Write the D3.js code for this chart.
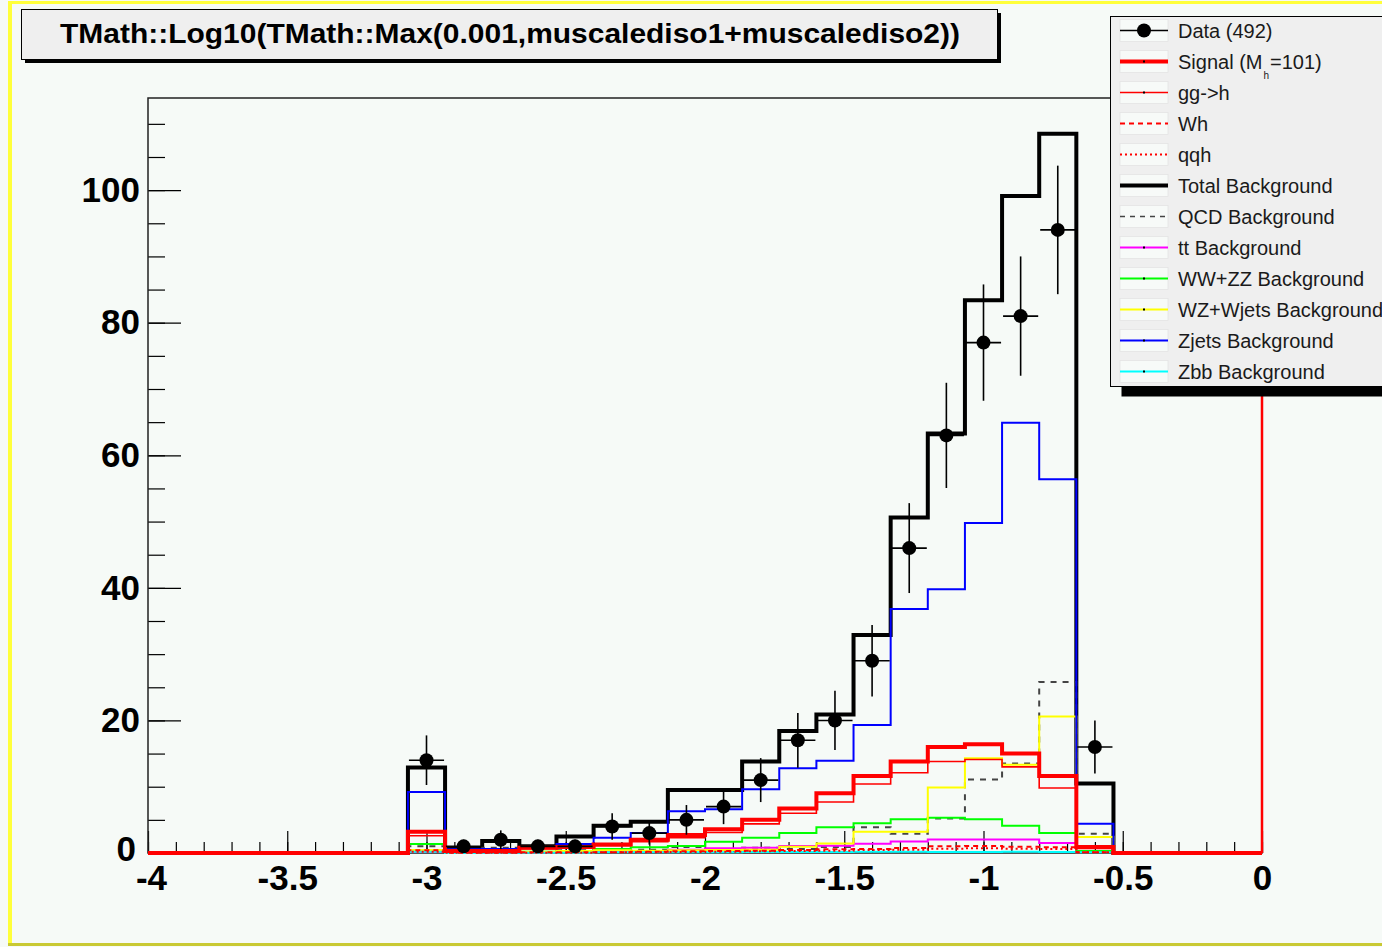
<!DOCTYPE html>
<html>
<head>
<meta charset="utf-8">
<script src="https://cdn.jsdelivr.net/npm/d3@7"></script>
<style>
  html, body { margin: 0; padding: 0; background: #f6faf7; }
  svg { display: block; }
  text { font-family: "Liberation Sans", Arial, Helvetica, sans-serif; }
</style>
</head>
<body>
<svg id="canvas" width="1382" height="947"></svg>
<script>
// ---- Binning of the histogram axis ----
const xMin = -4, xMax = 0, nBins = 30;
const firstBin = 7;          // index of the first bin that holds the listed contents
const yMax = 113.9;

// ---- Axis ticks ----
const xMajorTicks = [-4, -3.5, -3, -2.5, -2, -1.5, -1, -0.5, 0];
const xTickLabels = ["-4", "-3.5", "-3", "-2.5", "-2", "-1.5", "-1", "-0.5", "0"];
const yMajorTicks = [0, 20, 40, 60, 80, 100];
const yTickLabels = ["0", "20", "40", "60", "80", "100"];

// ---- Bin contents, bins 7 .. 25 ----
const dataCounts   = [14, 1, 2, 1, 1, 4, 3, 5, 7, 11, 17, 20, 29, 46, 63, 77, 81, 94, 16];
const totalBkg     = [12.9, 0.7, 1.8, 1.0, 2.5, 4.1, 4.7, 9.5, 9.5, 13.8, 18.4, 20.9, 32.9, 50.6, 63.3, 83.4, 99.1, 108.5, 10.5];
const qcdBkg       = [1.0, 0.1, 0.8, 0.1, 0.4, 0.3, 0.5, 0.9, 0.6, 0.8, 0.6, 0.9, 3.9, 2.9, 5.2, 11.1, 13.5, 25.8, 2.9];
const ttBkg        = [0.2, 0.05, 0.1, 0.1, 0.15, 0.2, 0.3, 0.5, 0.7, 0.8, 1.05, 1.1, 1.4, 1.75, 2.05, 2.05, 2.05, 1.5, 0.15];
const wwzzBkg      = [1.35, 0.1, 0.15, 0.2, 0.3, 0.6, 0.85, 1.05, 1.7, 2.3, 3.0, 3.9, 4.5, 5.1, 5.3, 5.1, 4.1, 3.0, 0.3];
const wzWjetsBkg   = [0.45, 0.2, 0.35, 0.2, 0.3, 0.4, 0.35, 0.4, 0.45, 0.5, 0.95, 1.45, 3.2, 3.2, 9.9, 14.3, 13.3, 20.6, 2.4];
const zjetsBkg     = [9.2, 0.55, 0.6, 0.85, 1.35, 2.3, 3.0, 6.3, 6.6, 9.6, 12.8, 13.9, 19.3, 36.8, 39.8, 49.8, 64.9, 56.4, 4.4];
const zbbBkg       = [0.2, 0.0, 0.05, 0.05, 0.05, 0.1, 0.1, 0.1, 0.1, 0.15, 0.15, 0.15, 0.2, 0.2, 0.15, 0.15, 0.2, 0.15, 0.1];
const signalTotal  = [3.2, 0.3, 0.3, 0.8, 0.9, 1.3, 2.0, 2.7, 3.6, 5.0, 6.7, 9.0, 11.6, 13.8, 16.0, 16.4, 15.0, 11.6, 0.9];
const ggh          = [2.6, 0.2, 0.25, 0.65, 0.75, 1.1, 1.7, 2.3, 3.1, 4.4, 6.0, 7.7, 10.4, 12.1, 13.8, 14.1, 13.0, 9.8, 0.7];
const wh           = [0.4, 0.05, 0.03, 0.1, 0.1, 0.1, 0.2, 0.25, 0.3, 0.35, 0.45, 0.55, 0.6, 0.75, 1.0, 1.05, 0.95, 0.85, 0.1];
const qqh          = [0.2, 0.05, 0.02, 0.05, 0.05, 0.1, 0.1, 0.15, 0.2, 0.25, 0.3, 0.35, 0.45, 0.5, 0.65, 0.7, 0.65, 0.6, 0.1];

const titleText = "TMath::Log10(TMath::Max(0.001,muscalediso1+muscalediso2))";

// ---- Layout ----
const frame = { left: 148, right: 1262, top: 98, bottom: 853 };
const svg = d3.select("#canvas");

const x = d3.scaleLinear().domain([xMin, xMax]).range([frame.left, frame.right]);
const y = d3.scaleLinear().domain([0, yMax]).range([frame.bottom, frame.top]);

const binW = (xMax - xMin) / nBins;
const edges = d3.range(nBins + 1).map(i => xMin + i * binW);

// canvas border (ROOT canvas bevel)
svg.append("rect").attr("x", 0).attr("y", 0).attr("width", 1382).attr("height", 947).attr("fill", "#f6faf7");
svg.append("rect").attr("x", 8).attr("y", 1).attr("width", 1374).attr("height", 3).attr("fill", "#ffff3a");
svg.append("rect").attr("x", 8).attr("y", 1).attr("width", 4).attr("height", 945).attr("fill", "#ffff3a");
svg.append("rect").attr("x", 8).attr("y", 943).attr("width", 1374).attr("height", 3).attr("fill", "#c9c934");

// ---- Title box ----
svg.append("rect").attr("x", 25).attr("y", 13).attr("width", 976).attr("height", 50).attr("fill", "#000");
svg.append("rect").attr("x", 21.5).attr("y", 9.5).attr("width", 976).attr("height", 50)
  .attr("fill", "#efefef").attr("stroke", "#000").attr("stroke-width", 1);
svg.append("text").attr("x", 510).attr("y", 43).attr("text-anchor", "middle")
  .attr("font-size", 28).attr("font-weight", "bold").attr("fill", "#000")
  .attr("textLength", 900).attr("lengthAdjust", "spacingAndGlyphs")
  .text(titleText);

// ---- Axes ----
const axisFont = g => g.selectAll("text")
  .attr("font-family", "'Liberation Sans', Arial, sans-serif")
  .attr("font-size", 35).attr("font-weight", "bold").attr("fill", "#000");

const xMinorTicks = d3.range(0, 41).map(i => xMin + i * 0.1);
svg.append("g").attr("transform", `translate(0,${frame.bottom})`)
  .call(d3.axisBottom(x).tickValues(xMinorTicks).tickSize(-11).tickFormat(""))
  .call(g => g.select(".domain").remove())
  .call(g => g.selectAll("line").attr("stroke", "#000").attr("stroke-width", 1.2));

svg.append("g").attr("transform", `translate(0,${frame.bottom})`)
  .call(d3.axisBottom(x).tickValues(xMajorTicks).tickSize(-22).tickPadding(12)
    .tickFormat((d, i) => xTickLabels[i]))
  .call(g => g.select(".domain").remove())
  .call(g => g.selectAll("line").attr("stroke", "#000").attr("stroke-width", 1.2))
  .call(axisFont)
  // the first label sits right under the y-axis "0"; keep the two apart
  .call(g => g.selectAll("text").filter(d => d === xMin).attr("dx", 3));

const yMinorTicks = d3.range(0, 23).map(i => i * 5);
svg.append("g").attr("transform", `translate(${frame.left},0)`)
  .call(d3.axisLeft(y).tickValues(yMinorTicks).tickSize(-17).tickFormat(""))
  .call(g => g.select(".domain").remove())
  .call(g => g.selectAll("line").attr("stroke", "#000").attr("stroke-width", 1.2));

svg.append("g").attr("transform", `translate(${frame.left},0)`)
  .call(d3.axisLeft(y).tickValues(yMajorTicks).tickSize(-33).tickPadding(8)
    .tickFormat((d, i) => yTickLabels[i]))
  .call(g => g.select(".domain").remove())
  .call(g => g.selectAll("line").attr("stroke", "#000").attr("stroke-width", 1.2))
  .call(axisFont)
  .call(g => g.selectAll("text").filter(d => d === 0).attr("dx", -4).attr("dy", "0.22em"));

// ---- Frame ----
svg.append("rect").attr("x", frame.left).attr("y", frame.top)
  .attr("width", frame.right - frame.left).attr("height", frame.bottom - frame.top)
  .attr("fill", "none").attr("stroke", "#222").attr("stroke-width", 1.5);

// ---- Histograms ----
function stepPoints(vals) {
  const full = d3.range(nBins).map(i => {
    const j = i - firstBin;
    return (j >= 0 && j < vals.length) ? vals[j] : 0;
  });
  const pts = full.map((v, i) => [edges[i], v]);
  pts.push([xMax, full[nBins - 1]]);
  return pts;
}
const stepLine = d3.line().x(d => x(d[0])).y(d => y(d[1])).curve(d3.curveStepAfter);

const series = [
  { key: "Total Background",      values: totalBkg,   color: "#000000", width: 4 },
  { key: "QCD Background",        values: qcdBkg,     color: "#444444", width: 2, dash: "6,6" },
  { key: "tt Background",         values: ttBkg,      color: "#ff00ff", width: 2 },
  { key: "WW+ZZ Background",      values: wwzzBkg,    color: "#00ff00", width: 2 },
  { key: "WZ+Wjets Background",   values: wzWjetsBkg, color: "#ffff00", width: 2 },
  { key: "Zjets Background",      values: zjetsBkg,   color: "#0000ff", width: 2 },
  { key: "Zbb Background",        values: zbbBkg,     color: "#00ffff", width: 2 },
  { key: "Signal",                values: signalTotal,color: "#ff0000", width: 4 },
  { key: "gg->h",                 values: ggh,        color: "#ff0000", width: 1.6 },
  { key: "Wh",                    values: wh,         color: "#ff0000", width: 2, dash: "5,4" },
  { key: "qqh",                   values: qqh,        color: "#ff0000", width: 2, dash: "2,3" }
];

const histG = svg.append("g");
series.forEach(s => {
  histG.append("path")
    .attr("d", stepLine(stepPoints(s.values)))
    .attr("fill", "none")
    .attr("stroke", s.color)
    .attr("stroke-width", s.width)
    .attr("stroke-dasharray", s.dash || null)
    .attr("stroke-linejoin", "miter");
});

// the signal histogram line also closes up the right edge of the frame
histG.append("line")
  .attr("x1", x(xMax)).attr("x2", x(xMax))
  .attr("y1", y(0)).attr("y2", y(yMax))
  .attr("stroke", "#ff0000").attr("stroke-width", 2.5);

// ---- Data points with Poisson errors ----
const dataG = svg.append("g");
dataCounts.forEach((n, j) => {
  const lo = edges[firstBin + j], hi = edges[firstBin + j + 1];
  const c = (lo + hi) / 2;
  const e = Math.sqrt(n);
  dataG.append("line").attr("x1", x(c)).attr("x2", x(c))
    .attr("y1", y(n - e)).attr("y2", y(n + e))
    .attr("stroke", "#000").attr("stroke-width", 1.6);
  dataG.append("line").attr("x1", x(lo) + 1).attr("x2", x(hi) - 1)
    .attr("y1", y(n)).attr("y2", y(n))
    .attr("stroke", "#000").attr("stroke-width", 1.6);
  dataG.append("circle").attr("cx", x(c)).attr("cy", y(n)).attr("r", 7).attr("fill", "#000");
});

// ---- Legend ----
const leg = { x: 1110.5, y: 16.5, w: 290, h: 370 };
svg.append("rect").attr("x", leg.x + 11).attr("y", leg.y + 10).attr("width", leg.w).attr("height", leg.h).attr("fill", "#000");
svg.append("rect").attr("x", leg.x).attr("y", leg.y).attr("width", leg.w).attr("height", leg.h)
  .attr("fill", "#efefef").attr("stroke", "#000").attr("stroke-width", 1);

const legendEntries = [
  { label: "Data (492)", type: "data" },
  { label: "Signal", sub: true, color: "#ff0000", width: 4, dot: true },
  { label: "gg->h", color: "#ff0000", width: 1.6, dot: true },
  { label: "Wh", color: "#ff0000", width: 2, dash: "5,4" },
  { label: "qqh", color: "#ff0000", width: 2, dash: "2,3" },
  { label: "Total Background", color: "#000000", width: 4 },
  { label: "QCD Background", color: "#444444", width: 1.5, dash: "5,5" },
  { label: "tt Background", color: "#ff00ff", width: 2, dot: true },
  { label: "WW+ZZ Background", color: "#00ff00", width: 2, dot: true },
  { label: "WZ+Wjets Background", color: "#ffff00", width: 2, dot: true },
  { label: "Zjets Background", color: "#0000ff", width: 2, dot: true },
  { label: "Zbb Background", color: "#00ffff", width: 2, dot: true }
];

const rowY = i => 30.5 + i * 31.0;
const symX1 = 1120, symX2 = 1168, textX = 1178;
legendEntries.forEach((e, i) => {
  const cy = rowY(i);
  svg.append("rect").attr("x", symX1).attr("y", cy - 11).attr("width", symX2 - symX1).attr("height", 22)
    .attr("fill", "#f7faf8").attr("stroke", "#e4e4e4").attr("stroke-width", 0.8);
  if (e.type === "data") {
    svg.append("line").attr("x1", symX1).attr("x2", symX2).attr("y1", cy).attr("y2", cy)
      .attr("stroke", "#000").attr("stroke-width", 1.6);
    svg.append("circle").attr("cx", (symX1 + symX2) / 2).attr("cy", cy).attr("r", 7).attr("fill", "#000");
  } else {
    svg.append("line").attr("x1", symX1).attr("x2", symX2).attr("y1", cy).attr("y2", cy)
      .attr("stroke", e.color).attr("stroke-width", e.width)
      .attr("stroke-dasharray", e.dash || null);
    if (e.dot) {
      svg.append("rect").attr("x", (symX1 + symX2) / 2 - 1).attr("y", cy - 1)
        .attr("width", 2).attr("height", 2).attr("fill", "#000");
    }
  }
  const t = svg.append("text").attr("x", textX).attr("y", cy + 7)
    .attr("font-size", 20).attr("fill", "#1a1a1a");
  if (e.sub) {
    t.append("tspan").text("Signal (M");
    t.append("tspan").attr("dy", 10).attr("dx", 1).attr("font-size", 10).text("h");
    t.append("tspan").attr("dy", -10).attr("dx", 1).text("=101)");
  } else {
    t.text(e.label);
  }
});
</script>
</body>
</html>
